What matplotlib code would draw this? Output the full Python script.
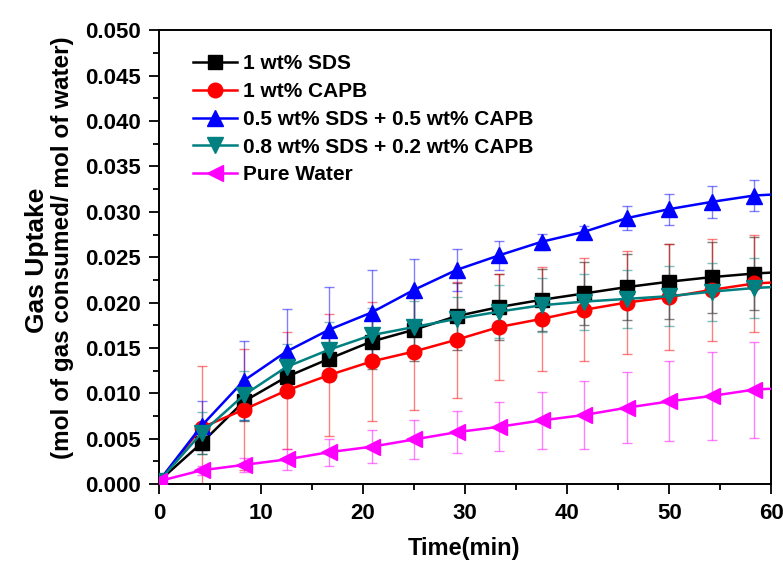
import matplotlib
matplotlib.use("Agg")
import matplotlib.pyplot as plt
from matplotlib.ticker import MultipleLocator, FormatStrFormatter

plt.rcParams['font.family'] = ['Liberation Sans', 'DejaVu Sans']
plt.rcParams['font.weight'] = 'bold'

time = [0, 4.17, 8.33, 12.5, 16.67, 20.83, 25.0, 29.17, 33.33, 37.5, 41.67, 45.83, 50.0, 54.17, 58.33, 60]

sds = [0.0003, 0.0045, 0.0091, 0.0118, 0.0138, 0.0157, 0.0170, 0.0185, 0.0195, 0.0203, 0.0210, 0.0217, 0.0223, 0.0228, 0.0232, 0.0233]
sds_err = [0, 0.0012, 0.0022, 0.0022, 0.0025, 0.0030, 0.0035, 0.0037, 0.0036, 0.0034, 0.0035, 0.0036, 0.0041, 0.0039, 0.0040, 0]

capb = [0.0003, 0.0062, 0.0082, 0.0103, 0.0120, 0.0135, 0.0146, 0.0159, 0.0173, 0.0182, 0.0192, 0.0200, 0.0206, 0.0214, 0.0221, 0.0222]
capb_err = [0, 0.0068, 0.0067, 0.0065, 0.0067, 0.0066, 0.0065, 0.0064, 0.0058, 0.0057, 0.0057, 0.0057, 0.0058, 0.0056, 0.0054, 0]

mix55 = [0.0003, 0.0064, 0.0114, 0.0146, 0.0170, 0.0189, 0.0214, 0.0236, 0.0252, 0.0267, 0.0278, 0.0293, 0.0303, 0.0311, 0.0318, 0.0319]
mix55_err = [0, 0.0027, 0.0044, 0.0047, 0.0047, 0.0047, 0.0034, 0.0023, 0.0016, 0.0009, 0.0006, 0.0013, 0.0017, 0.0018, 0.0017, 0]

mix82 = [0.0003, 0.0056, 0.0098, 0.0129, 0.0148, 0.0164, 0.0173, 0.0182, 0.0190, 0.0197, 0.0201, 0.0204, 0.0207, 0.0212, 0.0216, 0.0217]
mix82_err = [0, 0.0023, 0.0027, 0.0025, 0.0030, 0.0030, 0.0029, 0.0024, 0.0029, 0.0030, 0.0031, 0.0032, 0.0033, 0.0032, 0.0033, 0]

water = [0.0003, 0.0015, 0.0021, 0.0027, 0.0035, 0.0041, 0.0049, 0.0057, 0.0063, 0.0070, 0.0076, 0.0084, 0.0091, 0.0097, 0.0104, 0.0105]
water_err = [0, 0.0005, 0.0008, 0.0012, 0.0015, 0.0018, 0.0021, 0.0023, 0.0027, 0.0031, 0.0037, 0.0039, 0.0044, 0.0049, 0.0053, 0]

labels = ['1 wt% SDS', '1 wt% CAPB', '0.5 wt% SDS + 0.5 wt% CAPB',
          '0.8 wt% SDS + 0.2 wt% CAPB', 'Pure Water']
series = [sds, capb, mix55, mix82, water]
errors = [sds_err, capb_err, mix55_err, mix82_err, water_err]
colors = ['#000000', '#FF0000', '#0000FF', '#008080', '#FF00FF']
markers = ['s', 'o', '^', 'v', '<']
msizes = [10, 10.5, 11, 11, 11]

fig = plt.figure(figsize=(7.83, 5.64), dpi=100)
ax = fig.add_axes([0.203, 0.142, 0.782, 0.804])

n = len(time)
for y, e, c, m, ms, lab in zip(series, errors, colors, markers, msizes, labels):
    ax.errorbar(time[1:n-1], y[1:n-1], yerr=e[1:n-1], fmt='none', ecolor=c,
                elinewidth=1.0, capsize=3.5, capthick=1.0, alpha=0.5, zorder=2)
    ax.plot(time, y, color=c, lw=1.8, marker=m, markersize=ms,
            markevery=list(range(0, n-1)), label=lab, zorder=3)

ax.set_xlim(0, 60)
ax.set_ylim(0, 0.05)
ax.xaxis.set_major_locator(MultipleLocator(10))
ax.xaxis.set_minor_locator(MultipleLocator(5))
ax.yaxis.set_major_locator(MultipleLocator(0.005))
ax.yaxis.set_minor_locator(MultipleLocator(0.0025))
ax.yaxis.set_major_formatter(FormatStrFormatter('%.3f'))
ax.tick_params(which='major', direction='out', length=7, width=1.3, labelsize=16)
ax.tick_params(axis='x', which='major', pad=7)
ax.tick_params(axis='y', which='major', pad=6)
ax.tick_params(which='minor', direction='out', length=4, width=1.3)
for lab in ax.get_xticklabels() + ax.get_yticklabels():
    lab.set_fontweight('bold')
for sp in ax.spines.values():
    sp.set_linewidth(1.4)

fig.text(464 / 783, 1 - 549 / 564, 'Time(min)', fontsize=17,
         fontweight='bold', ha='center', va='center')
fig.text(37 / 783, 1 - 260 / 564, 'Gas Uptake', rotation=90, fontsize=19,
         fontweight='bold', ha='center', va='center')
fig.text(62 / 783, 1 - 248 / 564, '(mol of gas consumed/ mol of water)',
         rotation=90, fontsize=17.5, fontweight='bold', ha='center', va='center')

leg = ax.legend(loc='upper left', bbox_to_anchor=(0.035, 0.975), frameon=False,
                prop={'size': 15, 'weight': 'bold'}, handlelength=2.1,
                handletextpad=0.3, labelspacing=0.42, borderaxespad=0.2)

fig.savefig('out.png', dpi=100)
